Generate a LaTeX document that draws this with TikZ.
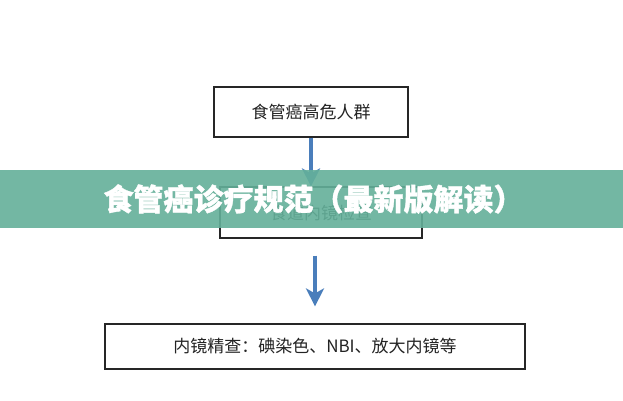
\documentclass[tikz,border=0pt]{standalone}
\usepackage{fontspec}
\newfontfamily\cjk{Noto Sans CJK SC}
\newfontfamily\cjkheavy{Noto Sans CJK SC}[BoldFeatures={FakeBold=1.2}]
\usetikzlibrary{arrows.meta}
\definecolor{arrowblue}{RGB}{74,126,187}
\definecolor{bannergreen}{RGB}{100,176,154}
\definecolor{boxtext}{RGB}{35,35,35}
\begin{document}
\begin{tikzpicture}[x=1pt,y=-1pt,
  box/.style={draw=black!85, line width=1.2pt, inner sep=0pt, font=\cjk\fontsize{17}{17}\selectfont, text=boxtext},
  flow/.style={draw=arrowblue, line width=3.5pt, -{Stealth[length=18pt,width=18pt,inset=5pt]}},
  banner/.style={font=\cjkheavy\bfseries\fontsize{30}{30}\selectfont, text=white, inner sep=0pt}]
\useasboundingbox (0,0) rectangle (623,400);
\fill[white] (0,0) rectangle (623,400);
\node[box, minimum width=194pt, minimum height=50pt] (n1) at (311,112) {食管癌高危人群};
\node[box, minimum width=202pt, minimum height=51pt] (n2) at (321,212.5) {食道内镜检查};
\node[box, minimum width=420pt, minimum height=45pt] (n3) at (315,346.5) {内镜精查：碘染色、NBI、放大内镜等};
\draw[flow] (n1.south) -- (n1.south |- n2.north);
\draw[flow, shorten <=17pt, shorten >=17pt] (n2.south -| n3.north) -- (n3.north);
\fill[bannergreen, fill opacity=0.9] (0,170) rectangle (623,228);
\node[banner] (title) at (313.5,199) {食管癌诊疗规范（最新版解读）};
\end{tikzpicture}
\end{document}
